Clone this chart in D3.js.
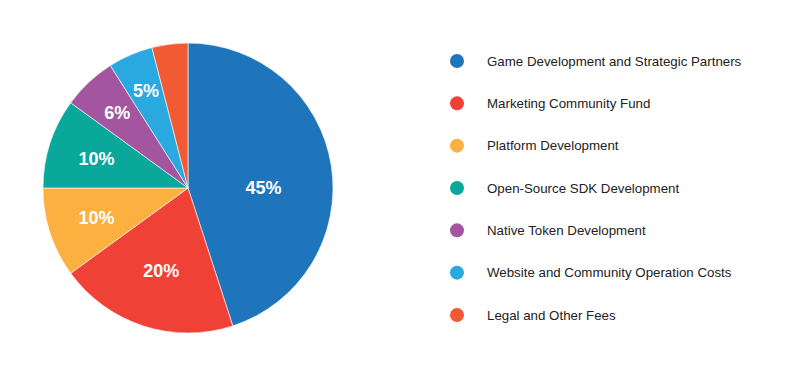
<!DOCTYPE html>
<html>
<head>
<meta charset="utf-8">
<script src="https://cdn.jsdelivr.net/npm/d3@7"></script>
<style>
  body { margin: 0; background: #fff; }
  svg text { font-family: "Liberation Sans", Arial, sans-serif; }
</style>
</head>
<body>
<div id="chart"></div>
<script>
// --------------- Data ---------------
const categories = [
  "Game Development and Strategic Partners",
  "Marketing Community Fund",
  "Platform Development",
  "Open-Source SDK Development",
  "Native Token Development",
  "Website and Community Operation Costs",
  "Legal and Other Fees",
];
const shares = [45, 20, 10, 10, 6, 5, 4];
const colors = ["#1f75bb", "#ef4136", "#fbb040", "#0aa79b", "#a3559f", "#29a9e0", "#f15a33"];

// --------------- Layout ---------------
const WIDTH = 804;
const HEIGHT = 375;
const CX = 188;
const CY = 188;
const RADIUS = 145;
const LABEL_MIN = 5; // smaller slices get no label

const data = categories.map((name, i) => ({ name, value: shares[i], color: colors[i] }));
const total = d3.sum(shares);

const svg = d3
  .select("#chart")
  .append("svg")
  .attr("width", WIDTH)
  .attr("height", HEIGHT);

const pie = d3.pie().sort(null).value((d) => d.value);
const arc = d3.arc().innerRadius(0).outerRadius(RADIUS);
const arcs = pie(data);

const g = svg.append("g").attr("transform", `translate(${CX},${CY})`);

g.selectAll("path")
  .data(arcs)
  .enter()
  .append("path")
  .attr("d", arc)
  .attr("fill", (d) => d.data.color)
  .attr("stroke", "#fff")
  .attr("stroke-width", 0.6);

// small slices push their labels outward
const labelRadius = d3
  .scaleLog()
  .domain([0.05, 0.45])
  .range([0.73 * RADIUS, 0.52 * RADIUS]);

// big slices (past a quarter turn) keep their label level with the centre
const labelAngle = (d) => {
  const mid = (d.startAngle + d.endAngle) / 2;
  return d.endAngle - d.startAngle > Math.PI / 2 ? Math.PI / 2 : mid;
};

g.selectAll("text")
  .data(arcs.filter((d) => d.data.value >= LABEL_MIN))
  .enter()
  .append("text")
  .attr("transform", (d) => {
    const a = labelAngle(d);
    const r = labelRadius(d.data.value / total);
    return `translate(${r * Math.sin(a)},${-r * Math.cos(a)})`;
  })
  .attr("text-anchor", "middle")
  .attr("dy", "0.35em")
  .attr("fill", "#fff")
  .attr("font-size", 18)
  .attr("font-weight", "bold")
  .text((d) => `${d.data.value}%`);

// --------------- Legend ---------------
const legendY = d3
  .scalePoint()
  .domain(categories)
  .range([61, 315]);

const legend = svg
  .append("g")
  .selectAll("g")
  .data(data)
  .enter()
  .append("g")
  .attr("transform", (d) => `translate(457,${legendY(d.name)})`);

legend.append("circle").attr("r", 7).attr("fill", (d) => d.color);

legend
  .append("text")
  .attr("x", 30)
  .attr("dy", "0.35em")
  .attr("font-size", 13.3)
  .attr("fill", "#222")
  .text((d) => d.name);
</script>
</body>
</html>
